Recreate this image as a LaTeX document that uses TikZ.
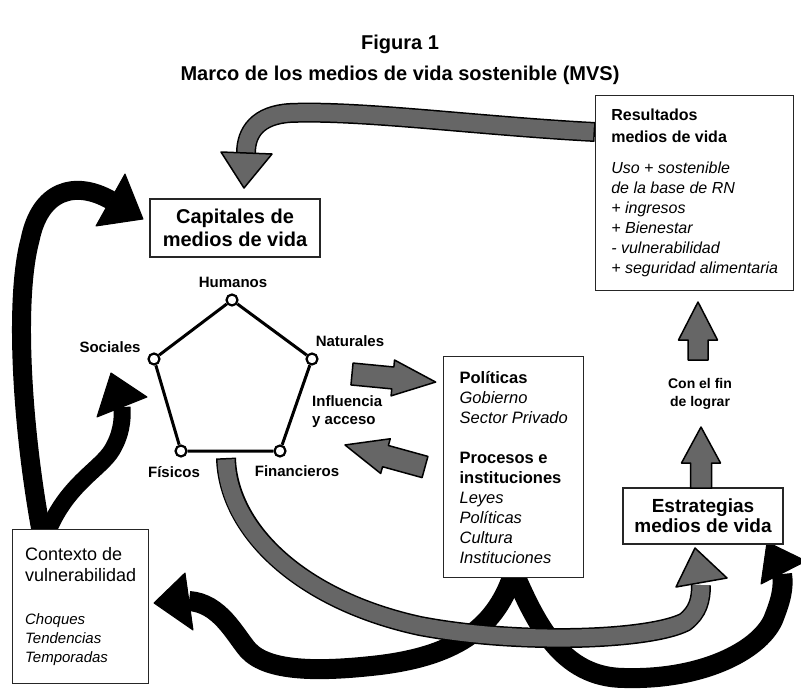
\documentclass[tikz,border=0pt]{standalone}
\usepackage{fontspec}
\setmainfont{Liberation Sans}
\definecolor{bandgray}{RGB}{102,102,102}
\pgfdeclarelayer{background}
\pgfdeclarelayer{bands}
\pgfsetlayers{background,bands,main}
\tikzset{
  box/.style={draw=black!85, line width=1.4pt, fill=white, inner sep=0pt},
  vertex/.style={circle, draw, fill=white, line width=2.2pt, minimum size=11pt, inner sep=0pt},
  edge/.style={line width=3pt},
  lab/.style={font=\fontsize{15}{18}\selectfont\bfseries, inner sep=0pt},
  bandout/.style={draw=black, line width=20pt},
  bandin/.style={draw=bandgray, line width=17pt, shorten <=1.5pt},
  grayhead/.style={fill=bandgray, draw=black, line width=1.5pt, line join=round},
  blackband/.style={draw=black, line width=#1},
  blackband/.default=20pt,
  blackhead/.style={fill=black, draw=black, line width=1pt, line join=round},
}

\begin{document}
\begin{tikzpicture}[x=1pt, y=-1pt]

\useasboundingbox (0,0) rectangle (801,691);
\begin{pgfonlayer}{background}
\fill[white] (0,0) rectangle (801,691);
\end{pgfonlayer}

% title
\node[anchor=base, font=\fontsize{20}{24}\selectfont\bfseries] (title1) at (400,49) {Figura 1};
\node[anchor=base, font=\fontsize{20}{24}\selectfont\bfseries] (title2) at (400,80) {Marco de los medios de vida sostenible (MVS)};

% boxes
\node[box, minimum width=170pt, minimum height=58pt, align=center,
  font=\fontsize{20}{23}\selectfont\bfseries] (cap) at (235,228) {Capitales de\\medios de vida};

\node[box, anchor=north west, minimum width=198pt, minimum height=195pt, align=left,
  font=\fontsize{16}{20}\selectfont] (res) at (595,95)
  {\textbf{Resultados}\\[2pt] \textbf{medios de vida}\\[11pt]
   \textit{Uso + sostenible}\\ \textit{de la base de RN}\\ \textit{+ ingresos}\\
   \textit{+ Bienestar}\\ \textit{- vulnerabilidad}\\ \textit{+ seguridad alimentaria}};

\node[box, anchor=north west, minimum width=140pt, minimum height=221pt, align=left,
  font=\fontsize{16.5}{20}\selectfont] (pol) at (443,356)
  {\textbf{Políticas}\\ \textit{Gobierno}\\ \textit{Sector Privado}\\[20pt]
   \textbf{Procesos e}\\ \textbf{instituciones}\\ \textit{Leyes}\\ \textit{Políticas}\\
   \textit{Cultura}\\ \textit{Instituciones}};

\node[box, minimum width=160pt, minimum height=56pt, align=center,
  font=\fontsize{19}{20}\selectfont\bfseries] (est) at (703,516) {Estrategias\\medios de vida};

\node[box, anchor=north west, minimum width=136pt, minimum height=154pt, align=left,
  font=\fontsize{18}{19}\selectfont] (ctx) at (12,529)
  {Contexto de\\[2pt] vulnerabilidad\\[24pt]
   {\fontsize{15}{19}\selectfont\itshape Choques}\\
   {\fontsize{15}{19}\selectfont\itshape Tendencias}\\
   {\fontsize{15}{19}\selectfont\itshape Temporadas}};

% pentagon of capitals
\node[vertex] (hum) at (232,300) {};
\node[vertex] (nat) at (312,359) {};
\node[vertex] (fin) at (280,451) {};
\node[vertex] (fis) at (181,451) {};
\node[vertex] (soc) at (154,359) {};
\draw[edge] (hum) -- (nat) -- (fin) -- (fis) -- (soc) -- (hum);

\node[lab] (humlab) at (233,282) {Humanos};
\node[lab] (soclab) at (110,347) {Sociales};
\node[lab] (natlab) at (350,341) {Naturales};
\node[lab] (fislab) at (174,472) {Físicos};
\node[lab] (finlab) at (297,471) {Financieros};
\node[lab, anchor=west, align=left] (inflab) at (312,412) {Influencia\\y acceso};
\node[lab, align=center, font=\fontsize{14}{18}\selectfont\bfseries] (finlograr) at (700,394) {Con el fin\\de lograr};

% straight grey arrows
\draw[grayhead, shift={(352,374)}, rotate=-5.5] (0,-11) -- (41,-11) -- (41,-18) -- (84,0) -- (41,18) -- (41,11) -- (0,11) -- cycle;
\draw[grayhead, shift={(425,467)}, rotate=164.6] (0,-11) -- (41,-11) -- (41,-18) -- (83,0) -- (41,18) -- (41,11) -- (0,11) -- cycle;
\draw[grayhead, shift={(698,360)}, rotate=90] (0,-10) -- (20,-10) -- (20,-19.5) -- (58,0) -- (20,19.5) -- (20,10) -- (0,10) -- cycle;
\draw[grayhead, shift={(701,488)}, rotate=90] (0,-10.5) -- (25,-10.5) -- (25,-19.5) -- (61,0) -- (25,19.5) -- (25,10.5) -- (0,10.5) -- cycle;

% curved bands, behind the boxes
\begin{pgfonlayer}{bands}
% black: vulnerability context
\draw[blackband=19pt] ([shift={(30pt,-7pt)}]ctx.north west) .. controls (22,430) and (14,300) .. (30,240)
  .. controls (40,190) and (75,180) .. (110.5,200);
\fill[blackhead] (125,174) -- (143,219) -- (96,226) -- cycle;
\draw[blackband=17pt] ([shift={(34pt,-7pt)}]ctx.north west) .. controls (65,485) and (100,470) .. (112,450)
  .. controls (121,435) and (123,420) .. (122,407);
\fill[blackhead] (97,417) -- (111,373) -- (147,397) -- cycle;
% black: from processes
\draw[blackband] ([yshift=6pt]pol.south) .. controls (497,625) and (460,655) .. (380,665)
  .. controls (320,672) and (268,672) .. (248,650) .. controls (235,635) and (220,603) .. (189,601);
\fill[blackhead] (185,573) -- (154,603) -- (193,630) -- cycle;
\draw[blackband] ([yshift=6pt]pol.south) .. controls (535,620) and (560,678) .. (625,678)
  .. controls (700,680) and (758,652) .. (773,620) .. controls (781,600) and (784,588) .. (782,574);
\fill[blackhead] (761,584) -- (767,542) -- (806,561) -- cycle;
% grey: capitals to strategies
\draw[bandout] (226,458) .. controls (228,530) and (300,600) .. (420,626)
  .. controls (520,645) and (650,640) .. (685,622) .. controls (698,612) and (701,600) .. (701,585);
\draw[bandin] (226,458) .. controls (228,530) and (300,600) .. (420,626)
  .. controls (520,645) and (650,640) .. (685,622) .. controls (698,612) and (701,600) .. (701,585);
\draw[grayhead] (676,587) -- (695,548) -- (727,578) -- cycle;
% grey: outcomes back to capitals
\draw[bandout] ([yshift=-37pt]res.north west) .. controls (480,126) and (360,110) .. (290,113)
  .. controls (258,115) and (246,132) .. (246,153);
\draw[bandin] ([yshift=-37pt]res.north west) .. controls (480,126) and (360,110) .. (290,113)
  .. controls (258,115) and (246,132) .. (246,153);
\draw[grayhead] (221,152) -- (272,154) -- (244,188) -- cycle;
\end{pgfonlayer}

\end{tikzpicture}
\end{document}
